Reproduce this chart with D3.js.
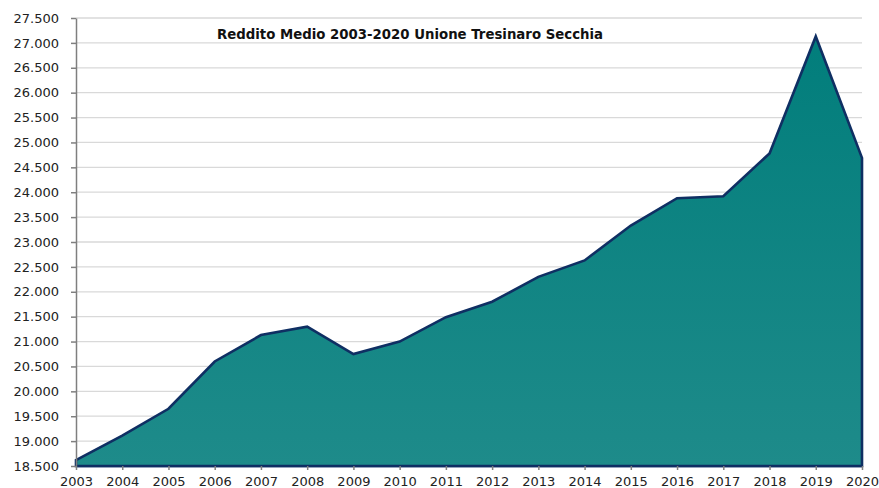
<!DOCTYPE html>
<html>
<head>
<meta charset="utf-8">
<script src="https://cdn.jsdelivr.net/npm/d3@7/dist/d3.min.js"></script>
<style>
  html, body { margin: 0; padding: 0; background: #ffffff; }
  svg { display: block; }
</style>
</head>
<body>
<svg id="chart" width="879" height="488"></svg>
<script>
// Reddito medio per anno (euro)
const years = [2003, 2004, 2005, 2006, 2007, 2008, 2009, 2010, 2011, 2012,
               2013, 2014, 2015, 2016, 2017, 2018, 2019, 2020];
const redditoMedio = [18620, 19110, 19650, 20600, 21130, 21300, 20750, 21000, 21490, 21800,
                      22300, 22630, 23330, 23880, 23920, 24780, 27130, 24690];
const yTicks = [18500, 19000, 19500, 20000, 20500, 21000, 21500, 22000, 22500,
                23000, 23500, 24000, 24500, 25000, 25500, 26000, 26500, 27000, 27500];
const title = "Reddito Medio 2003-2020 Unione Tresinaro Secchia";

const svg = d3.select("#chart");
const margin = { left: 76, right: 17, top: 18, bottom: 22 };
const W = 879, H = 488;

const x = d3.scaleLinear()
  .domain([years[0], years[years.length - 1]])
  .range([margin.left, W - margin.right]);
const y = d3.scaleLinear()
  .domain([18500, 27500])
  .range([H - margin.bottom, margin.top]);

const it = d3.formatLocale({ decimal: ",", thousands: ".", grouping: [3], currency: ["€", ""] });
const fmt = it.format(",.0f");

// gradient fill for the area
const defs = svg.append("defs");
const grad = defs.append("linearGradient")
  .attr("id", "fillGrad")
  .attr("gradientUnits", "userSpaceOnUse")
  .attr("x1", 0).attr("x2", 0)
  .attr("y1", y(27500)).attr("y2", y(18500));
grad.append("stop").attr("offset", "0%").attr("stop-color", "#007d7b");
grad.append("stop").attr("offset", "100%").attr("stop-color", "#1e8b8a");

// horizontal gridlines
svg.append("g")
  .selectAll("line")
  .data(yTicks.slice(1))
  .join("line")
  .attr("x1", margin.left).attr("x2", W - margin.right)
  .attr("y1", d => y(d)).attr("y2", d => y(d))
  .attr("stroke", "#d9d9d9")
  .attr("stroke-width", 1.3);

const data = years.map((yr, i) => ({ yr, v: redditoMedio[i] }));

// filled area, outlined in navy
const area = d3.area()
  .x(d => x(d.yr))
  .y0(y(18500))
  .y1(d => y(d.v));
svg.append("path")
  .datum(data)
  .attr("d", area)
  .attr("fill", "url(#fillGrad)")
  .attr("stroke", "#0f2f63")
  .attr("stroke-width", 2.6)
  .attr("stroke-linejoin", "miter");

// y axis
const yAxis = svg.append("g")
  .attr("transform", `translate(${margin.left},0)`)
  .call(d3.axisLeft(y).tickValues(yTicks).tickFormat(fmt).tickSize(5).tickSizeOuter(0));
yAxis.select(".domain").attr("stroke", "#7f7f7f").attr("stroke-width", 1.5);
yAxis.selectAll(".tick line").attr("stroke", "#7f7f7f").attr("stroke-width", 1.5);
yAxis.selectAll(".tick text")
  .attr("x", -17)
  .attr("fill", "#222")
  .style("font-family", "'DejaVu Sans', Verdana, sans-serif")
  .style("font-size", "13px");

// x axis
const xAxis = svg.append("g")
  .attr("transform", `translate(0,${y(18500)})`)
  .call(d3.axisBottom(x).tickValues(years).tickFormat(d3.format("d")).tickSize(4).tickSizeOuter(0));
xAxis.select(".domain").attr("stroke", "#0f2f63").attr("stroke-width", 1.5);
xAxis.selectAll(".tick line").attr("stroke", "#7f7f7f").attr("stroke-width", 1.5);
xAxis.selectAll(".tick text")
  .attr("y", 11)
  .attr("fill", "#222")
  .style("font-family", "'DejaVu Sans', Verdana, sans-serif")
  .style("font-size", "13px");

// title
svg.append("text")
  .attr("x", 410)
  .attr("y", 39)
  .attr("text-anchor", "middle")
  .attr("fill", "#111")
  .style("font-family", "'DejaVu Sans', Verdana, sans-serif")
  .style("font-weight", "bold")
  .style("font-size", "13.3px")
  .text(title);
</script>
</body>
</html>
